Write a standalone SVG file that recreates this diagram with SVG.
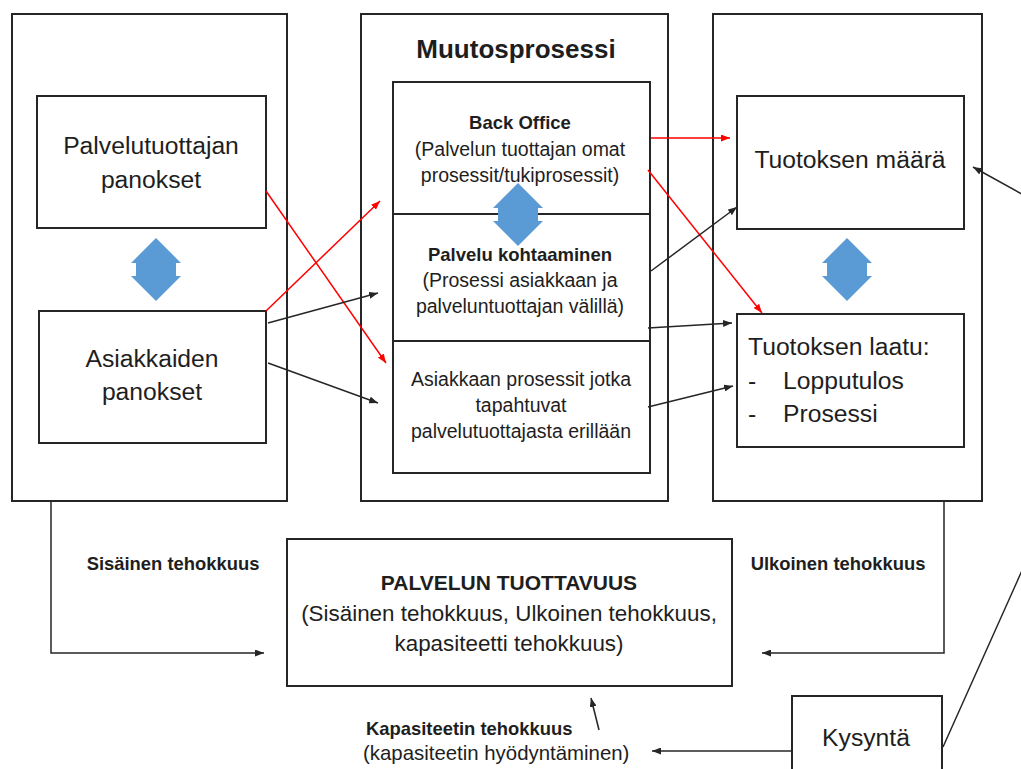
<svg xmlns="http://www.w3.org/2000/svg" width="1021" height="769" viewBox="0 0 1021 769">
<style>
.box{fill:#fff;stroke:#262626;stroke-width:2}
.t{font-family:"Liberation Sans",Arial,sans-serif;fill:#1e1e1e}
.big{font-size:24.7px}
.mid{font-size:19.5px}
.midb{font-size:18.5px;font-weight:bold}
.lbl{font-size:18.4px;font-weight:bold}
.c{text-anchor:middle}
.blk{fill:none;stroke:#262626;stroke-width:1.5}
.red{fill:none;stroke:#ff0000;stroke-width:1.5}
.blue{fill:#5b9bd5}
</style>
<defs>
<marker id="ab" markerUnits="userSpaceOnUse" markerWidth="9" markerHeight="7" refX="9" refY="3.5" orient="auto"><path d="M0,0 L9,3.5 L0,7 Z" fill="#262626"/></marker>
<marker id="ar" markerUnits="userSpaceOnUse" markerWidth="9" markerHeight="7" refX="9" refY="3.5" orient="auto"><path d="M0,0 L9,3.5 L0,7 Z" fill="#ff0000"/></marker>
<path id="ud" d="M0,0 L25,25 L20,25 L20,38 L25,38 L0,63 L-25,38 L-20,38 L-20,25 L-25,25 Z"/>
</defs>

<g id="panokset">
<rect class="box" x="12" y="14" width="275" height="487"/>
</g>
<g id="palvelutuottajan-panokset">
<rect class="box" x="37" y="96" width="229" height="132"/>
<text class="t big c" x="151" y="154">Palvelutuottajan</text>
<text class="t big c" x="151" y="188">panokset</text>
</g>
<g id="asiakkaiden-panokset">
<rect class="box" x="39" y="311" width="227" height="132"/>
<text class="t big c" x="152" y="367">Asiakkaiden</text>
<text class="t big c" x="152" y="400">panokset</text>
</g>
<use href="#ud" class="blue" transform="translate(156,238)"/>

<g id="muutosprosessi">
<rect class="box" x="361" y="14" width="307" height="487"/>
<text class="t c" x="516" y="58" style="font-size:26px;font-weight:bold">Muutosprosessi</text>
<rect class="box" x="393" y="82" width="257" height="391"/>
<line x1="393" y1="214" x2="650" y2="214" stroke="#262626" stroke-width="2"/>
<line x1="393" y1="341" x2="650" y2="341" stroke="#262626" stroke-width="2"/>
</g>
<g id="back-office">
<text class="t midb c" x="520" y="129">Back Office</text>
<text class="t mid c" x="520" y="156">(Palvelun tuottajan omat</text>
<text class="t mid c" x="520" y="182">prosessit/tukiprosessit)</text>
</g>
<g id="palvelu-kohtaaminen">
<text class="t midb c" x="520" y="261">Palvelu kohtaaminen</text>
<text class="t mid c" x="520" y="287">(Prosessi asiakkaan ja</text>
<text class="t mid c" x="520" y="313">palveluntuottajan välillä)</text>
</g>
<g id="asiakkaan-prosessit">
<text class="t mid c" x="521" y="386">Asiakkaan prosessit jotka</text>
<text class="t mid c" x="521" y="412">tapahtuvat</text>
<text class="t mid c" x="521" y="438">palvelutuottajasta erillään</text>
</g>
<use href="#ud" class="blue" transform="translate(518,183)"/>

<g id="tuotos">
<rect class="box" x="713" y="14" width="269" height="487"/>
</g>
<g id="tuotoksen-maara">
<rect class="box" x="737" y="96" width="227" height="133"/>
<text class="t big c" x="850" y="168">Tuotoksen määrä</text>
</g>
<g id="tuotoksen-laatu">
<rect class="box" x="737" y="314" width="227" height="133"/>
<text class="t big" x="748" y="355">Tuotoksen laatu:</text>
<text class="t big" x="748" y="389">-</text>
<text class="t big" x="783" y="389">Lopputulos</text>
<text class="t big" x="748" y="422">-</text>
<text class="t big" x="783" y="422">Prosessi</text>
</g>
<use href="#ud" class="blue" transform="translate(847,238)"/>

<g id="palvelun-tuottavuus">
<rect class="box" x="287" y="539" width="445" height="147"/>
<text class="t c" x="509" y="590" style="font-size:21px;font-weight:bold">PALVELUN TUOTTAVUUS</text>
<text class="t c" x="509" y="621" style="font-size:22.4px">(Sisäinen tehokkuus, Ulkoinen tehokkuus,</text>
<text class="t c" x="509" y="651" style="font-size:22.4px">kapasiteetti tehokkuus)</text>
</g>
<g id="kysynta">
<rect class="box" x="792" y="696" width="150" height="90"/>
<text class="t big c" x="866" y="746">Kysyntä</text>
</g>

<g id="labels">
<text class="t lbl c" x="173" y="570">Sisäinen tehokkuus</text>
<text class="t lbl c" x="838" y="570">Ulkoinen tehokkuus</text>
<text class="t lbl" x="366" y="735">Kapasiteetin tehokkuus</text>
<text class="t" x="363" y="760" style="font-size:20.4px">(kapasiteetin hyödyntäminen)</text>
</g>

<g id="connectors">
<line class="red" x1="266" y1="191" x2="386" y2="363" marker-end="url(#ar)"/>
<line class="red" x1="266" y1="311" x2="380" y2="201" marker-end="url(#ar)"/>
<line class="blk" x1="268" y1="323" x2="378" y2="293" marker-end="url(#ab)"/>
<line class="blk" x1="268" y1="363" x2="378" y2="403" marker-end="url(#ab)"/>
<line class="red" x1="651" y1="138" x2="730" y2="138" marker-end="url(#ar)"/>
<line class="red" x1="648" y1="170" x2="762" y2="313" marker-end="url(#ar)"/>
<line class="blk" x1="651" y1="271" x2="737" y2="207" marker-end="url(#ab)"/>
<line class="blk" x1="648" y1="328" x2="732" y2="323" marker-end="url(#ab)"/>
<line class="blk" x1="648" y1="407" x2="733" y2="386" marker-end="url(#ab)"/>
<polyline class="blk" points="51,501 51,653 264,653" marker-end="url(#ab)"/>
<polyline class="blk" points="944,501 944,653 762,653" marker-end="url(#ab)"/>
<line class="blk" x1="599" y1="730" x2="591" y2="698" marker-end="url(#ab)"/>
<line class="blk" x1="792" y1="751" x2="652" y2="751" marker-end="url(#ab)"/>
<polyline class="blk" points="943,747 1157,269 973,167" marker-end="url(#ab)"/>
</g>
</svg>
